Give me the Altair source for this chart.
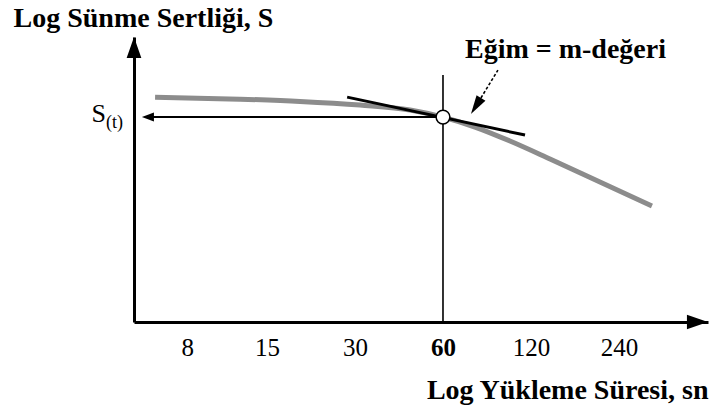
import altair as alt
import pandas as pd

# ---- data (schematic units) ----
curve_time = [6.21, 12.1, 19.45, 31.2, 46.3, 60, 77.2, 101.7, 139.4, 206.6, 311.2]
curve_s = [78.9, 78.2, 77.4, 76.1, 74.4, 71.9, 68.4, 63.5, 57.2, 49.1, 40.7]

tangent_time = [28.2, 114.5]
tangent_s = [78.9, 65.6]

point_time = [60]
point_s = [71.9]          # S(t)

tick_values = [8, 15, 30, 60, 120, 240]

x_min, x_max = 5.26, 484   # log-time axis extent
y_min, y_max = 0, 100      # log-stiffness axis extent

vline_top = [86.7]
harrow_head_time = [5.87]
yarrow_s = [96.3]
xarrow_time = [445.3]

note_shaft_time = [92.5, 80.9]
note_shaft_s = [88.4, 78.6]
note_head_time = [77.8]
note_head_s = [75.8]
note_text = ["Eğim = m-değeri"]
note_text_time = [157.5]
note_text_s = [95.4]

SERIF = "Liberation Serif"

xs = alt.Scale(type="log", base=2, domain=[x_min, x_max], nice=False)
ys = alt.Scale(domain=[y_min, y_max], nice=False)

x_axis = alt.Axis(
    values=tick_values, ticks=False, grid=False,
    domainColor="black", domainWidth=3,
    labelFont=SERIF, labelFontSize=25, labelColor="black",
    labelFontWeight={"condition": {"test": "datum.value == 60", "value": "bold"}, "value": "normal"},
    labelPadding=13, labelFlush=False, labelOverlap=False,
    title="Log Yükleme Süresi, sn", titleFont=SERIF, titleFontSize=28,
    titleFontWeight="bold", titleColor="black", titleAlign="right",
    titleX=574, titleY=68, titleBaseline="middle",
)
y_axis = alt.Axis(
    labels=False, ticks=False, grid=False,
    domainColor="black", domainWidth=3,
    title="Log Sünme Sertliği, S", titleFont=SERIF, titleFontSize=28,
    titleFontWeight="bold", titleColor="black", titleAngle=0,
    titleAlign="left", titleBaseline="middle", titleX=-121, titleY=-19,
)

X = lambda f="t": alt.X(f"{f}:Q", scale=xs, axis=x_axis)
Y = lambda f="s": alt.Y(f"{f}:Q", scale=ys, axis=y_axis)

curve_df = pd.DataFrame({"t": curve_time, "s": curve_s})
tan_df = pd.DataFrame({"t": tangent_time, "s": tangent_s})
pt_df = pd.DataFrame({"t": point_time, "s": point_s, "top": vline_top,
                      "x0": [x_min], "head": harrow_head_time})
yarrow_df = pd.DataFrame({"t": [x_min], "s": yarrow_s})
xarrow_df = pd.DataFrame({"t": xarrow_time, "s": [y_min]})
shaft_df = pd.DataFrame({"t": note_shaft_time, "s": note_shaft_s})
head_df = pd.DataFrame({"t": note_head_time, "s": note_head_s})
text_df = pd.DataFrame({"t": note_text_time, "s": note_text_s, "label": note_text})

curve = alt.Chart(curve_df).mark_line(
    color="#8c8c8c", strokeWidth=5, interpolate="monotone"
).encode(x=X(), y=Y())

tangent = alt.Chart(tan_df).mark_line(color="black", strokeWidth=3).encode(x=X(), y=Y())

hline = alt.Chart(pt_df).mark_rule(color="black", strokeWidth=2).encode(
    x=X("head"), x2="t:Q", y=Y()
)
hhead = alt.Chart(pt_df).mark_point(
    shape="M-1,0L1,-0.75L1,0.75Z", filled=True, color="black", size=144, opacity=1
).encode(x=X("head"), y=Y())

vline = alt.Chart(pt_df).mark_rule(color="black", strokeWidth=1.6).encode(
    x=X(), y=alt.Y("top:Q", scale=ys, axis=y_axis), y2=alt.datum(y_min)
)

circle = alt.Chart(pt_df).mark_point(
    shape="circle", filled=True, fill="white", stroke="black", strokeWidth=1.5,
    size=190, opacity=1
).encode(x=X(), y=Y())

yarrow = alt.Chart(yarrow_df).mark_point(
    shape="M0,-1L0.7,1L-0.7,1Z", filled=True, color="black", size=441, opacity=1
).encode(x=X(), y=Y())

xarrow = alt.Chart(xarrow_df).mark_point(
    shape="M1,0L-1,0.7L-1,-0.7Z", filled=True, color="black", size=441, opacity=1
).encode(x=X(), y=Y())

shaft = alt.Chart(shaft_df).mark_line(
    color="black", strokeWidth=1.6, strokeDash=[3, 2]
).encode(x=X(), y=Y())

nhead = alt.Chart(head_df).mark_point(
    shape="M0,-1L0.55,1L-0.55,1Z", filled=True, color="black", size=361,
    angle=212, opacity=1
).encode(x=X(), y=Y())

note = alt.Chart(text_df).mark_text(
    font=SERIF, fontSize=28, fontWeight="bold", color="black",
    align="center", baseline="middle"
).encode(x=X(), y=Y(), text="label:N")

s_label = alt.Chart(pt_df).mark_text(
    text="S", font=SERIF, fontSize=26, color="black",
    align="right", baseline="middle", dx=-28, dy=-3
).encode(x=X("x0"), y=Y())
t_label = alt.Chart(pt_df).mark_text(
    text="(t)", font=SERIF, fontSize=18, color="black",
    align="left", baseline="middle", dx=-28, dy=6
).encode(x=X("x0"), y=Y())

chart = alt.layer(
    curve, tangent, hline, hhead, vline, circle, yarrow, xarrow,
    shaft, nhead, note, s_label, t_label
).properties(
    width=574, height=285,
    padding={"left": 134, "top": 37, "right": 5, "bottom": 92},
    autosize=alt.AutoSizeParams(type="none"),
    background="white",
).configure_view(stroke=None)

chart.save("out.html", embed_options={"renderer": "svg", "actions": False})
